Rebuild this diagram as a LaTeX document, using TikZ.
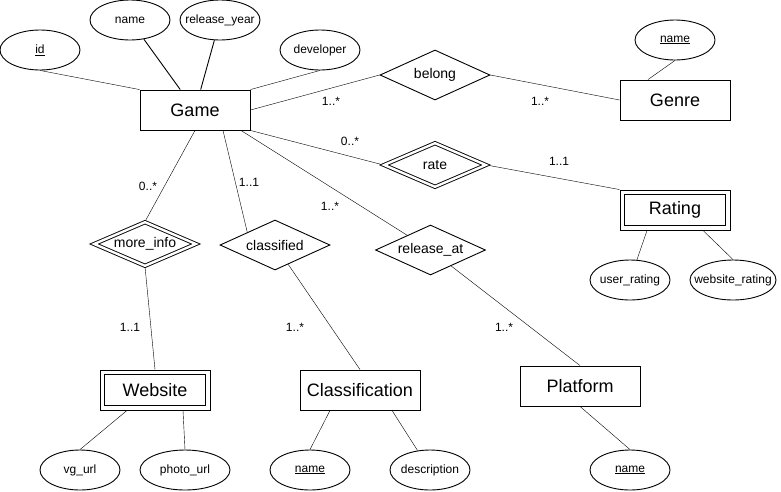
\documentclass[tikz,border=0pt]{standalone}
\usepackage{fontspec}
\setmainfont{Liberation Sans}
\usetikzlibrary{shapes.geometric,backgrounds}

\begin{document}
\begin{tikzpicture}
    [x=1pt,y=-1pt,line width=0.9pt,
     entity/.style={rectangle,draw,minimum width=110pt,minimum height=40pt,font=\fontsize{18}{21}\selectfont},
     relation/.style={diamond,draw,aspect=2.4,inner sep=0pt,minimum width=110pt,minimum height=50pt,font=\fontsize{14}{16}\selectfont},
     weakrelation/.style={relation,double,double distance=2.4pt,minimum width=102pt,minimum height=44pt},
     attr/.style={ellipse,draw,inner xsep=-20pt,inner ysep=0pt,minimum width=80pt,minimum height=40pt,font=\fontsize{12}{14}\selectfont},
     card/.style={font=\fontsize{12}{14}\selectfont}]

    \useasboundingbox (0,0) rectangle (781,491);

    % entities
    \node[entity] (game) at (195,110) {Game};
    \node[entity] (genre) at (675,100) {Genre};
    \node[entity] (rating) at (675,210) {Rating};
    \node[entity] (website) at (155,390) {Website};
    \node[entity,minimum width=120pt] (classification) at (360,390) {Classification};
    \node[entity,minimum width=120pt] (platform) at (580,386) {Platform};

    % inner frames of the weak entities
    \draw ([shift={(5,5)}]rating.north west) rectangle ([shift={(-5,-5)}]rating.south east);
    \draw ([shift={(5,5)}]website.north west) rectangle ([shift={(-5,-5)}]website.south east);

    % relations
    \node[relation] (belong) at (435,75) {belong};
    \node[weakrelation] (rate) at (435,165) {rate};
    \node[weakrelation] (moreinfo) at (145,244) {more\_info};
    \node[relation] (classified) at (275,245) {classified};
    \node[relation] (releaseat) at (430.5,250) {release\_at};

    % attributes
    \node[attr] (id) at (40,50) {\underline{id}};
    \node[attr] (name) at (130,20) {name}
      edge (game);
    \node[attr] (releaseyear) at (220,20) {release\_year}
      edge (game);
    \node[attr] (developer) at (320,50) {developer};
    \node[attr] (genrename) at (675,40) {\underline{name}};
    \node[attr] (userrating) at (630,280) {user\_rating};
    \node[attr,minimum width=86pt] (websiterating) at (733,280) {website\_rating};
    \node[attr] (vgurl) at (80,470) {vg\_url};
    \node[attr,minimum width=90pt] (photourl) at (185,470) {photo\_url};
    \node[attr] (classname) at (310,470) {\underline{name}};
    \node[attr] (description) at (430,470) {description};
    \node[attr] (platformname) at (630,470) {\underline{name}};

    \begin{scope}[on background layer]
      \draw (id.south) -- (game.north west);
      \draw (developer.south) -- (game.north east);
      \draw (game.east) -- (belong.west);
      \draw (belong.east) -- (genre.west);
      \draw ([xshift=-27]genre.north) -- (genrename.south);
      \draw (game.south east) -- (rate.west);
      \draw (rate.east) -- (rating.north west);
      \draw ([xshift=-28]rating.south) -- (userrating);
      \draw ([xshift=28]rating.south) -- (websiterating.north);
      \draw (game.south) -- (moreinfo.north);
      \draw (moreinfo.south) -- (website.north);
      \draw ([xshift=-28]website.south) -- (vgurl.north);
      \draw ([xshift=28]website.south) -- (photourl.north);
      \draw ([xshift=28]game.south) -- (classified.north west);
      \draw (classified) -- (classification.north);
      \draw ([xshift=-30]classification.south) -- (classname.north);
      \draw ([xshift=32]classification.south) -- (description);
      \draw ([xshift=46]game.south) -- (releaseat);
      \draw (releaseat) -- (platform.north);
      \draw (platform.south) -- (platformname.north);
    \end{scope}

    % cardinalities
    \node[card] (cgb) at (331,101) {1..*};
    \node[card] (cbg) at (540,101) {1..*};
    \node[card] (cgr) at (350,141) {0..*};
    \node[card] (crr) at (559,161) {1..1};
    \node[card] (cgm) at (148,186) {0..*};
    \node[card] (cgc) at (249,182) {1..1};
    \node[card] (cga) at (330,206) {1..*};
    \node[card] (cmw) at (130,327) {1..1};
    \node[card] (ccc) at (295,327) {1..*};
    \node[card] (cap) at (504,327) {1..*};
  \end{tikzpicture}
\end{document}
